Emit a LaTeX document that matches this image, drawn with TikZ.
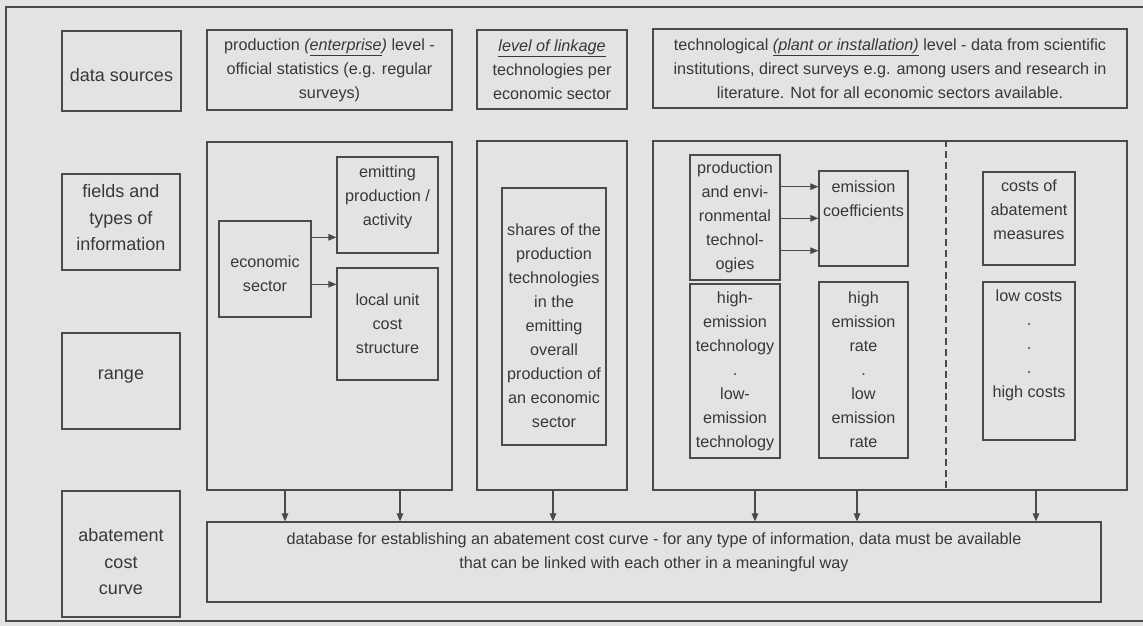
\documentclass[tikz,border=0pt]{standalone}
\usepackage{fontspec}
\setmainfont{Liberation Sans}
\usetikzlibrary{arrows.meta}
\definecolor{bg}{HTML}{E3E3E1}
\definecolor{ln}{HTML}{4A4A4A}
\definecolor{tx}{HTML}{383838}
\newcommand{\tdn}[1]{\rule{0pt}{#1pt}}
\newcommand{\tup}[1]{\rule[-#1pt]{0pt}{0pt}}
\begin{document}
\begin{tikzpicture}[x=1pt,y=-1pt,
  box/.style={draw=ln, line width=1.2pt, inner sep=0pt, align=center, text=tx,
    font=\fontsize{16.2}{24}\selectfont},
  lbox/.style={box, font=\fontsize{18}{26.5}\selectfont},
  arr/.style={draw=ln, line width=1.1pt, -{Triangle[length=8pt,width=6.5pt]}},
  sep/.style={draw=ln, line width=1.1pt, dash pattern=on 7pt off 4pt},
]
\fill[bg] (0,0) rectangle (1143,626);
\useasboundingbox (0,0) rectangle (1143,626);
\draw[ln, line width=1.4pt] (1143,7) -- (6,7) -- (6,621) -- (1143,621);

% left column
\node[lbox, minimum width=119pt, minimum height=80pt] (ds) at (121.5,71) {\tdn{21}data sources};
\node[lbox, minimum width=118pt, minimum height=96pt] (fti) at (121,222) {fields and\\types of\\information\tup{9}};
\node[lbox, minimum width=118pt, minimum height=96pt] (rng) at (121,381) {range\tup{12}};
\node[lbox, minimum width=118pt, minimum height=126pt] (acc) at (121,554) {\tdn{29}abatement\\cost\\curve};

% header boxes
\node[box, minimum width=245pt, minimum height=80pt] (hprod) at (329.5,70)
  {production \textit{(\underline{enterprise})} level -\\official statistics (e.g. regular\\surveys)};
\node[box, minimum width=150pt, minimum height=79pt] (hlink) at (552,69.5)
  {\textit{\underline{level of linkage}}\\technologies per\\economic sector};
\node[box, minimum width=474pt, minimum height=79pt] (htech) at (890,68.5)
  {technological \textit{\underline{(plant or installation)}} level - data from scientific\\institutions, direct surveys e.g. among users and research in\\literature. Not for all economic sectors available.};

% body boxes
\node[box, minimum width=245pt, minimum height=348pt] (b1) at (329.5,316) {};
\node[box, minimum width=150pt, minimum height=349pt] (b2) at (552,315.5) {};
\node[box, minimum width=474pt, minimum height=349pt] (b3) at (890,315.5) {};

% enterprise level
\node[box, minimum width=92pt, minimum height=96pt] (ecs) at (265,269) {\tdn{22}economic\\sector};
\node[box, minimum width=101pt, minimum height=96pt] (emit) at (387.5,205) {emitting\\production /\\activity\tup{19}};
\node[box, minimum width=101pt, minimum height=112pt] (local) at (387.5,324) {local unit\\cost\\structure};

% linkage
\node[box, minimum width=104pt, minimum height=257pt] (shares) at (554,316.5)
  {\tdn{30}shares of the\\production\\technologies\\in the\\emitting\\overall\\production of\\an economic\\sector};

% technological
\node[box, minimum width=90pt, minimum height=125pt] (penv) at (735,217.5)
  {production\\and envi-\\ronmental\\technol-\\ogies};
\node[box, minimum width=90pt, minimum height=174pt] (hitech) at (735,371)
  {high-\\emission\\technology\\.\\low-\\emission\\technology};
\node[box, minimum width=89pt, minimum height=95pt] (ecoef) at (863.5,218.5) {emission\\coefficients\tup{39}};
\node[box, minimum width=89pt, minimum height=176pt] (hrate) at (863.5,370)
  {high\\emission\\rate\\.\\low\\emission\\rate};
\node[box, minimum width=92pt, minimum height=93pt] (cost) at (1029,218.5) {costs of\\abatement\\measures\tup{17}};
\node[box, minimum width=92pt, minimum height=158pt] (lowc) at (1029,361) {low costs\\.\\.\\.\\high costs\tup{35}};

% database
\node[box, minimum width=894pt, minimum height=80pt] (db) at (654,562)
  {database for establishing an abatement cost curve - for any type of information, data must be available\\that can be linked with each other in a meaningful way\tup{23}};

% separator
\coordinate (xd) at (946,0);
\draw[sep] (b3.north -| xd) -- (b3.south -| xd);

% arrows in enterprise box
\coordinate (e1) at ([yshift=31.7pt]ecs.east);
\coordinate (e2) at ([yshift=-15.3pt]ecs.east);
\draw[arr] (e1) -- (e1 -| emit.west);
\draw[arr] (e2) -- (e2 -| local.west);

% arrows in technological box
\coordinate (p1) at ([yshift=30.8pt]penv.east);
\coordinate (p2) at ([yshift=-0.8pt]penv.east);
\coordinate (p3) at ([yshift=-33.2pt]penv.east);
\draw[arr] (p1) -- (p1 -| ecoef.west);
\draw[arr] (p2) -- (p2 -| ecoef.west);
\draw[arr] (p3) -- (p3 -| ecoef.west);

% arrows down to database
\coordinate (x1) at (285,0);
\coordinate (x2) at (400,0);
\coordinate (x3) at (553,0);
\coordinate (x4) at (755,0);
\coordinate (x5) at (857,0);
\coordinate (x6) at (1036,0);
\draw[arr] (b1.south -| x1) -- (db.north -| x1);
\draw[arr] (b1.south -| x2) -- (db.north -| x2);
\draw[arr] (b2.south -| x3) -- (db.north -| x3);
\draw[arr] (b3.south -| x4) -- (db.north -| x4);
\draw[arr] (b3.south -| x5) -- (db.north -| x5);
\draw[arr] (b3.south -| x6) -- (db.north -| x6);
\end{tikzpicture}
\end{document}
